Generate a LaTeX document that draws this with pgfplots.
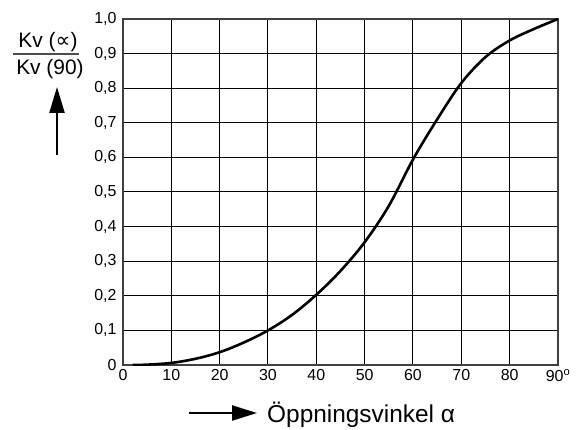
\documentclass[border=0pt]{standalone}
\usepackage{fontspec}
\setmainfont{Liberation Sans}
\newfontfamily\dejavu{DejaVu Sans}
\usepackage{pgfplots}
\pgfplotsset{compat=1.18}
\usetikzlibrary{arrows.meta}
\newcommand{\kvtf}{\fontsize{16}{19}\selectfont}
\begin{document}
\begin{tikzpicture}
\path[use as bounding box] (-123bp,-65bp) rectangle (461bp,365bp);
\begin{axis}[
    at={(0,0)}, anchor=south west,
    scale only axis, width=435bp, height=346bp,
    xmin=0, xmax=90, ymin=0, ymax=1,
    xtick={0,10,20,30,40,50,60,70,80,90},
    ytick={0,0.1,0.2,0.3,0.4,0.5,0.6,0.7,0.8,0.9,1},
    xticklabels={{\kvtf 0},{\kvtf 10},{\kvtf 20},{\kvtf 30},{\kvtf 40},{\kvtf 50},
        {\kvtf 60},{\kvtf 70},{\kvtf 80},{\kvtf 90\textsuperscript{o}}},
    yticklabels={{\kvtf 0},{\kvtf 0,1},{\kvtf 0,2},{\kvtf 0,3},{\kvtf 0,4},{\kvtf 0,5},
        {\kvtf 0,6},{\kvtf 0,7},{\kvtf 0,8},{\kvtf 0,9},{\kvtf 1,0}},
    grid=major,
    major grid style={black, line width=1bp},
    axis line style={black!75, line width=1.2bp},
    major tick length=0pt,
    yticklabel style={font=\kvtf, xshift=-3bp},
    xticklabel style={font=\kvtf, yshift=-1bp},
]
% Kv(alpha)/Kv(90) against opening angle
\addplot[black, line width=2.6bp, smooth, tension=0.55] coordinates {
    (2,0) (5,0.001) (10,0.006) (15,0.018) (20,0.037) (25,0.065)
    (30,0.1) (35,0.145) (40,0.203) (45,0.272) (50,0.355) (55,0.46)
    (60,0.594) (65,0.71) (70,0.815) (75,0.89) (80,0.938) (85,0.971) (90,1.0)
};
\end{axis}
% y label as a fraction with arrow
\node[anchor=base, font=\fontsize{21}{24}\selectfont, inner sep=0pt] at (-75bp,317bp) {Kv ({\dejavu ∝})};
\node[anchor=base, font=\fontsize{21}{24}\selectfont, inner sep=0pt] at (-73bp,290bp) {Kv (90)};
\draw[black!70, line width=1.3bp] (-110bp,311bp) -- (-44bp,311bp);
\draw[line width=2.4bp, -{Triangle[length=26bp, width=15bp]}] (-66bp,210bp) -- (-66bp,278bp);
% x label with arrow
\draw[line width=2.4bp, -{Triangle[length=25bp, width=15bp]}] (66bp,-48bp) -- (134bp,-48bp);
\node[anchor=base west, font=\fontsize{24.5}{28}\selectfont, inner sep=0pt] at (144bp,-57bp) {Öppningsvinkel α};
\end{tikzpicture}
\end{document}
